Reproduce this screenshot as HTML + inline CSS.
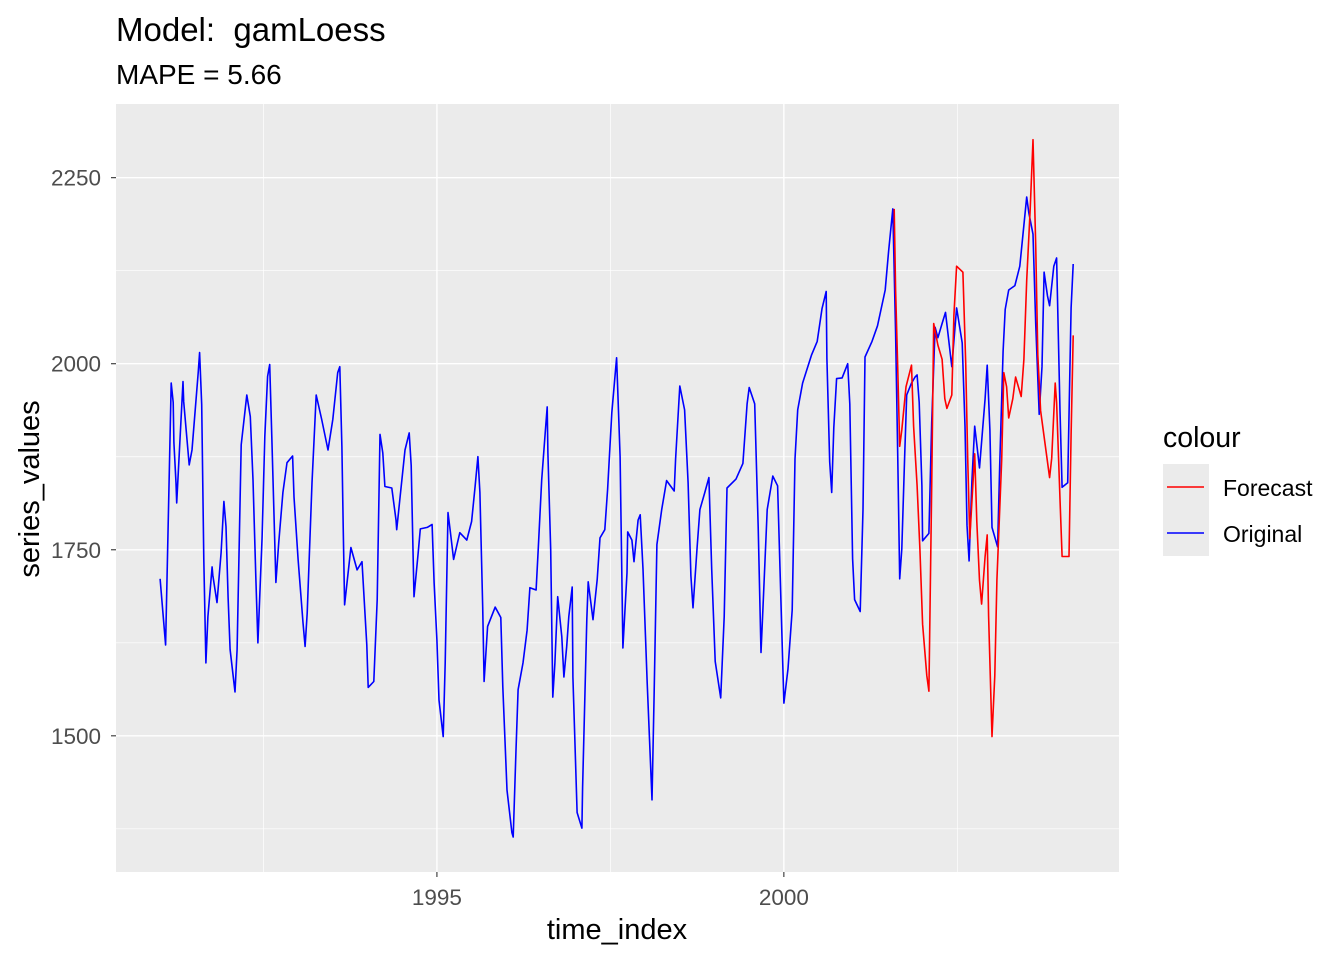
<!DOCTYPE html>
<html><head><meta charset="utf-8"><style>
body{margin:0;background:#fff;}
svg{display:block;font-family:"Liberation Sans",Arial,sans-serif;}
</style></head><body>
<svg id="chart" width="1344" height="960" viewBox="0 0 1344 960">
<rect x="0" y="0" width="1344" height="960" fill="#fff"/>
<rect x="116" y="104" width="1003" height="768" fill="#ebebeb"/>
<g id="grid"></g>
<g id="series"></g>
<g id="axes"></g>
<text x="116" y="41" font-size="33" fill="#000">Model:&#160;&#160;gamLoess</text>
<text x="116" y="84" font-size="28" fill="#000">MAPE = 5.66</text>
<text x="617" y="939" font-size="29" text-anchor="middle" fill="#000">time_index</text>
<text transform="translate(39,489) rotate(-90)" font-size="29" text-anchor="middle" fill="#000">series_values</text>
<g>
<text x="1163" y="447" font-size="28.5" fill="#000">colour</text>
<rect x="1163" y="464" width="46" height="92" fill="#ebebeb"/>
<line x1="1167" y1="487" x2="1204" y2="487" stroke="#ff0000" stroke-width="1.6"/>
<line x1="1167" y1="533" x2="1204" y2="533" stroke="#0000ff" stroke-width="1.6"/>
<text x="1223" y="496" font-size="23" fill="#000">Forecast</text>
<text x="1223" y="542" font-size="23" fill="#000">Original</text>
</g>
</svg>
<script>
const origTime=[1991.01,1991.09,1991.17,1991.20,1991.21,1991.24,1991.25,1991.34,1991.35,1991.43,1991.47,1991.56,1991.58,1991.61,1991.64,1991.67,1991.70,1991.76,1991.77,1991.83,1991.89,1991.93,1991.96,1991.99,1992.02,1992.09,1992.12,1992.18,1992.26,1992.31,1992.35,1992.39,1992.42,1992.48,1992.52,1992.56,1992.59,1992.62,1992.68,1992.72,1992.78,1992.84,1992.92,1992.94,1993.00,1993.07,1993.10,1993.13,1993.20,1993.26,1993.34,1993.43,1993.50,1993.57,1993.60,1993.63,1993.65,1993.67,1993.76,1993.85,1993.92,1993.99,1994.01,1994.09,1994.14,1994.18,1994.22,1994.25,1994.35,1994.41,1994.42,1994.47,1994.54,1994.60,1994.63,1994.65,1994.67,1994.73,1994.76,1994.86,1994.93,1994.96,1995.00,1995.03,1995.09,1995.12,1995.16,1995.19,1995.24,1995.33,1995.43,1995.50,1995.55,1995.59,1995.62,1995.66,1995.68,1995.73,1995.84,1995.92,1995.95,1996.01,1996.08,1996.10,1996.14,1996.17,1996.24,1996.30,1996.34,1996.43,1996.46,1996.51,1996.56,1996.59,1996.60,1996.64,1996.67,1996.70,1996.74,1996.80,1996.83,1996.87,1996.90,1996.95,1996.96,1997.00,1997.02,1997.09,1997.10,1997.16,1997.18,1997.25,1997.31,1997.35,1997.42,1997.46,1997.52,1997.59,1997.64,1997.67,1997.68,1997.74,1997.75,1997.81,1997.84,1997.90,1997.93,1997.97,1998.03,1998.10,1998.13,1998.17,1998.24,1998.31,1998.42,1998.44,1998.50,1998.57,1998.62,1998.66,1998.69,1998.75,1998.79,1998.86,1998.92,1998.96,1999.01,1999.09,1999.14,1999.18,1999.31,1999.41,1999.47,1999.50,1999.58,1999.63,1999.67,1999.70,1999.76,1999.84,1999.91,1999.97,2000.00,2000.06,2000.12,2000.16,2000.20,2000.27,2000.40,2000.48,2000.55,2000.61,2000.62,2000.66,2000.69,2000.72,2000.76,2000.84,2000.92,2000.95,2000.99,2001.02,2001.10,2001.14,2001.17,2001.27,2001.35,2001.46,2001.51,2001.57,2001.61,2001.64,2001.67,2001.70,2001.74,2001.77,2001.84,2001.89,2001.92,2001.95,2001.99,2002.00,2002.09,2002.13,2002.18,2002.22,2002.28,2002.33,2002.42,2002.49,2002.57,2002.61,2002.64,2002.67,2002.71,2002.75,2002.82,2002.90,2002.93,2002.97,2003.00,2003.08,2003.11,2003.16,2003.19,2003.24,2003.33,2003.40,2003.50,2003.53,2003.59,2003.63,2003.68,2003.72,2003.75,2003.80,2003.83,2003.89,2003.93,2003.98,2004.01,2004.09,2004.14,2004.17];
const origValues=[1711,1622,1974,1948,1894,1840,1813,1976,1949,1864,1884,1988,2015,1945,1737,1598,1660,1727,1716,1679,1746,1815,1781,1686,1616,1559,1616,1891,1958,1929,1844,1714,1625,1767,1902,1983,1999,1902,1706,1759,1827,1867,1876,1821,1737,1652,1620,1665,1840,1958,1925,1884,1925,1988,1996,1888,1781,1676,1753,1723,1734,1622,1565,1573,1683,1905,1880,1835,1833,1790,1777,1821,1884,1907,1863,1774,1687,1746,1778,1780,1784,1706,1629,1548,1499,1598,1800,1777,1737,1773,1763,1788,1835,1875,1827,1673,1573,1647,1673,1659,1566,1427,1370,1364,1481,1562,1598,1642,1699,1696,1750,1844,1907,1942,1880,1750,1552,1598,1687,1633,1579,1620,1660,1700,1579,1458,1397,1376,1431,1656,1707,1656,1710,1766,1777,1831,1934,2008,1875,1683,1618,1719,1774,1763,1734,1790,1797,1724,1571,1414,1554,1757,1804,1843,1829,1872,1970,1938,1840,1715,1672,1753,1804,1827,1847,1724,1600,1551,1660,1833,1845,1866,1946,1968,1946,1780,1612,1673,1804,1849,1836,1641,1544,1590,1669,1872,1938,1974,2012,2030,2074,2097,2007,1868,1827,1914,1980,1981,2000,1946,1738,1683,1667,1804,2009,2030,2051,2099,2151,2208,2041,1879,1711,1751,1873,1958,1974,1982,1985,1948,1836,1762,1772,1921,2049,2035,2054,2069,1996,2075,2028,1916,1783,1735,1842,1916,1860,1953,1998,1911,1780,1754,1863,2017,2073,2099,2105,2131,2224,2203,2174,2054,1932,1996,2123,2091,2078,2131,2142,1937,1834,1840,2075,2134];
const fcTime=[2001.59,2001.61,2001.64,2001.67,2001.70,2001.76,2001.84,2001.87,2001.92,2001.96,2002.00,2002.06,2002.09,2002.13,2002.16,2002.22,2002.28,2002.32,2002.35,2002.42,2002.45,2002.49,2002.58,2002.62,2002.65,2002.68,2002.72,2002.75,2002.78,2002.82,2002.85,2002.90,2002.93,2002.95,2003.00,2003.04,2003.07,2003.14,2003.17,2003.21,2003.24,2003.30,2003.34,2003.42,2003.46,2003.50,2003.55,2003.59,2003.63,2003.66,2003.70,2003.76,2003.83,2003.86,2003.91,2003.93,2003.98,2004.01,2004.11,2004.14,2004.17];
const fcValues=[2208,2099,1996,1889,1911,1969,1998,1916,1836,1751,1650,1581,1560,1836,2054,2025,2006,1953,1940,1958,2065,2131,2123,2001,1873,1765,1831,1879,1788,1709,1677,1741,1770,1661,1499,1581,1709,1871,1988,1969,1927,1953,1982,1956,2006,2112,2208,2301,2160,2012,1937,1895,1847,1873,1974,1948,1818,1741,1741,1905,2038];
const yTicks=[1500,1750,2000,2250];
const yMinor=[1375,1625,1875,2125];
const xTicks=[1995,2000];
const xMinor=[1992.5,1997.5,2002.5];

const NS='http://www.w3.org/2000/svg';
const X0=116,X1=1119,Y0=104,Y1=872;
const tMin=1990.375,tMax=2004.83,vMin=1317,vMax=2349;
function sx(t){return X0+(t-tMin)/(tMax-tMin)*(X1-X0);}
function sy(v){return Y1-(v-vMin)/(vMax-vMin)*(Y1-Y0);}
function mk(tag,attrs,parent){const e=document.createElementNS(NS,tag);for(const k in attrs)e.setAttribute(k,attrs[k]);parent.appendChild(e);return e;}
const grid=document.getElementById('grid'),axes=document.getElementById('axes'),series=document.getElementById('series');
yMinor.forEach(v=>{const l=mk('line',{x1:X0,x2:X1,y1:sy(v),y2:sy(v),stroke:'#fff','stroke-width':0.7},grid);

});
xMinor.forEach(t=>{const l=mk('line',{x1:sx(t),x2:sx(t),y1:Y0,y2:Y1,stroke:'#fff','stroke-width':0.7},grid);

});
yTicks.forEach(v=>{const l=mk('line',{x1:X0,x2:X1,y1:sy(v),y2:sy(v),stroke:'#fff','stroke-width':1.4},grid);


const tk=mk('line',{x1:X0-5,x2:X0,y1:sy(v),y2:sy(v),stroke:'#333','stroke-width':1.1},axes);


const tx=mk('text',{x:X0-15,y:sy(v)+8,'font-size':22.5,'text-anchor':'end',fill:'#4d4d4d'},axes);tx.textContent=v;

});
xTicks.forEach(t=>{const l=mk('line',{x1:sx(t),x2:sx(t),y1:Y0,y2:Y1,stroke:'#fff','stroke-width':1.4},grid);


const tk=mk('line',{x1:sx(t),x2:sx(t),y1:Y1,y2:Y1+5,stroke:'#333','stroke-width':1.1},axes);


const tx=mk('text',{x:sx(t),y:905,'font-size':22.5,'text-anchor':'middle',fill:'#4d4d4d'},axes);tx.textContent=t;

});
function pts(ts,vs){return ts.map((t,i)=>sx(t).toFixed(1)+','+sy(vs[i]).toFixed(1)).join(' ');}
const o=mk('polyline',{points:pts(origTime,origValues),fill:'none',stroke:'#0000ff','stroke-width':1.6,'stroke-linejoin':'round'},series);


const f=mk('polyline',{points:pts(fcTime,fcValues),fill:'none',stroke:'#ff0000','stroke-width':1.6,'stroke-linejoin':'round'},series);


</script>
</body></html>
